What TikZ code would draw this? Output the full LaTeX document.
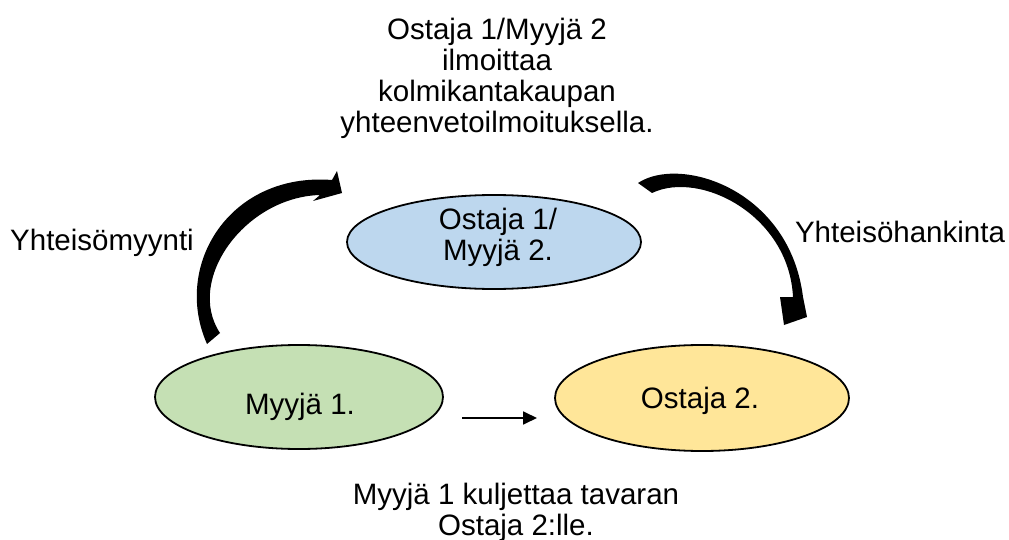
\documentclass[tikz,border=0pt]{standalone}
\usepackage{fontspec}
\setmainfont{Liberation Sans}
\usetikzlibrary{shapes.geometric,arrows.meta}
\definecolor{ellblue}{HTML}{BDD7EE}
\definecolor{ellgreen}{HTML}{C5E0B4}
\definecolor{ellyellow}{HTML}{FFE699}
\tikzset{
  party/.style={ellipse, draw=black, line width=1.8pt, inner sep=0pt},
  lbl/.style={inner sep=0pt, align=center, font=\fontsize{29.5}{31}\selectfont},
  bigarrow/.style={fill=black, draw=none},
  thinarrow/.style={line width=1.8pt, -{Triangle[length=14pt,width=13pt]}}
}
\begin{document}
\begin{tikzpicture}[x=1pt,y=-1pt]
\useasboundingbox (0,0) rectangle (1009,540);
% ellipses
\node[party, fill=ellblue, minimum width=294pt, minimum height=94pt] (b) at (494,242) {};
\node[party, fill=ellgreen, minimum width=288pt, minimum height=104pt] (g) at (299,397) {};
\node[party, fill=ellyellow, minimum width=294pt, minimum height=106pt] (y) at (702,398) {};
% ellipse texts
\node[lbl, anchor=base] (bt) at (498,260) {Ostaja 1/\\Myyjä 2.};
\node[lbl, anchor=base] (gt) at (300,414) {Myyjä 1.};
\node[lbl, anchor=base] (yt) at (700,408) {Ostaja 2.};
% outer labels
\node[lbl, anchor=base] (top) at (497,133) {Ostaja 1/Myyjä 2\\ilmoittaa\\kolmikantakaupan\\yhteenvetoilmoituksella.};
\node[lbl, anchor=base] (ym) at (102,250) {Yhteisömyynti};
\node[lbl, anchor=base] (yh) at (900,242) {Yhteisöhankinta};
\node[lbl, anchor=base] (bot) at (516,535) {Myyjä 1 kuljettaa tavaran\\Ostaja 2:lle.};
% curved arrows
\fill[bigarrow] (207,344) .. controls (172,265) and (230,172) .. (332,180)
  -- (337,171) -- (342,193) -- (313,201) -- (320,195)
  .. controls (245,197) and (185,280) .. (220,333) -- cycle;
\fill[bigarrow] (638,183) .. controls (680,155) and (789.5,189) .. (803,297)
  -- (807,317) -- (784,325) -- (780,297) -- (793,297)
  .. controls (789,215) and (700,170) .. (652,193) -- cycle;
% straight arrow
\coordinate (s1) at (462,418);
\coordinate (s2) at (537,418);
\draw[thinarrow] (s1) -- (s2);
\end{tikzpicture}
\end{document}
